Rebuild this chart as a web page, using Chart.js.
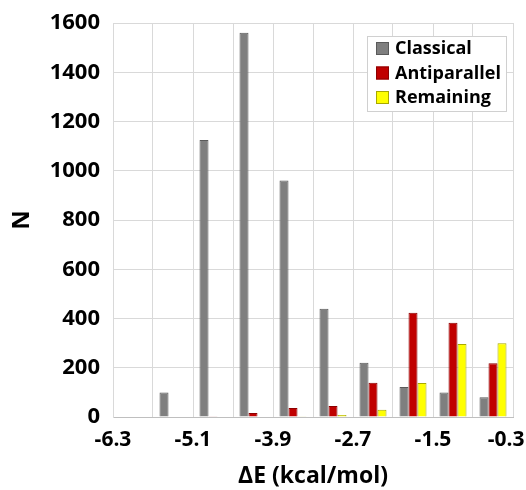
<!DOCTYPE html>
<html>
<head>
<meta charset="utf-8">
<script src="https://cdn.jsdelivr.net/npm/chart.js@4.4.1/dist/chart.umd.min.js"></script>
<style>
  html, body { margin: 0; padding: 0; background: #fff; }
  #wrap { width: 526px; height: 490px; }
</style>
</head>
<body>
<div id="wrap"><canvas id="histChart" width="526" height="490"></canvas></div>
<script>
// bin centres (kcal/mol), each bin 0.6 wide
const binCenters = [-6.0, -5.4, -4.8, -4.2, -3.6, -3.0, -2.4, -1.8, -1.2, -0.6];
const classical = [0, 100, 1125, 1560, 960, 440, 220, 122, 100, 80];
const antiparallel = [0, 0, 3, 16, 37, 45, 139, 423, 383, 218];
const remaining = [0, 0, 0, 0, 3, 8, 29, 138, 296, 300];
const yTicks = [0, 200, 400, 600, 800, 1000, 1200, 1400, 1600];

const FONT = "'Open Sans', 'DejaVu Sans', sans-serif";

function toPoints(values) {
    return binCenters.map((x, i) => ({ x: x, y: values[i] }));
}

const data = {
    datasets: [{
        label: 'Classical',
        data: toPoints(classical),
        backgroundColor: '#7f7f7f',
        borderColor: '#5a5a5a',
        borderWidth: 1
    }, {
        label: 'Antiparallel',
        data: toPoints(antiparallel),
        backgroundColor: '#c00000',
        borderColor: '#8c0000',
        borderWidth: 1
    }, {
        label: 'Remaining',
        data: toPoints(remaining),
        backgroundColor: '#ffff00',
        borderColor: '#a8a800',
        borderWidth: 1
    }]
};

// legend drawn inside the plot area, top right
const boxLegend = {
    id: 'boxLegend',
    afterDraw(chart) {
        const ctx = chart.ctx;
        const area = chart.chartArea;
        const x0 = area.right - 146;
        const y0 = area.top + 13;
        ctx.save();
        ctx.fillStyle = '#fff';
        ctx.fillRect(x0, y0, 140, 76);
        ctx.strokeStyle = '#d0d0d0';
        ctx.lineWidth = 1;
        ctx.strokeRect(x0 + 0.5, y0 + 0.5, 139, 75);
        ctx.font = 'bold 18px ' + FONT;
        ctx.textBaseline = 'middle';
        chart.data.datasets.forEach((ds, i) => {
            const cy = y0 + 12 + i * 24.5;
            ctx.fillStyle = ds.backgroundColor;
            ctx.fillRect(x0 + 9, cy - 6, 13, 13);
            ctx.strokeStyle = ds.borderColor;
            ctx.strokeRect(x0 + 9.5, cy - 5.5, 12, 12);
            ctx.fillStyle = '#000';
            ctx.fillText(ds.label, x0 + 28, cy + 1);
        });
        ctx.restore();
    }
};

const config = {
    type: 'bar',
    data: data,
    options: {
        responsive: false,
        animation: false,
        layout: {
            padding: { left: 0, right: 13, top: 23, bottom: 0 }
        },
        datasets: {
            bar: {
                categoryPercentage: 0.675,
                barPercentage: 1.0
            }
        },
        scales: {
            x: {
                type: 'linear',
                offset: false,
                min: -6.3,
                max: -0.3,
                grid: { color: '#d9d9d9', drawTicks: false, offset: false },
                border: { color: '#bfbfbf' },
                ticks: {
                    stepSize: 0.6,
                    autoSkip: false,
                    maxRotation: 0,
                    padding: 10,
                    color: '#000',
                    font: { family: FONT, size: 21, weight: 'bold' },
                    callback: (value, index, ticks) => {
                        if (index % 2 !== 0) return '';
                        // last label sits inside the canvas, like the original
                        return index === ticks.length - 1 ? value.toFixed(1) + '\u2002\u2009' : value.toFixed(1);
                    }
                },
                title: {
                    display: true,
                    text: 'ΔE (kcal/mol)',
                    color: '#000',
                    font: { family: FONT, size: 23, weight: 'bold' },
                    padding: { top: 0, bottom: 0 }
                },
                afterFit: (scale) => {
                    scale.height = 73;
                    scale.paddingRight = 0;
                }
            },
            y: {
                min: 0,
                max: 1600,
                grid: { color: '#d9d9d9', drawTicks: false },
                border: { color: '#d9d9d9' },
                afterBuildTicks: (scale) => {
                    scale.ticks = yTicks.map(v => ({ value: v }));
                },
                ticks: {
                    padding: 13,
                    color: '#000',
                    font: { family: FONT, size: 22, weight: 'bold' },
                    callback: (value) => String(value)
                },
                title: {
                    display: true,
                    text: 'N',
                    color: '#000',
                    font: { family: FONT, size: 24, weight: 'bold' },
                    padding: { top: 8, bottom: 0 }
                },
                afterFit: (scale) => {
                    scale.width = 113;
                    scale.paddingTop = 0;
                    scale.paddingBottom = 0;
                }
            }
        },
        plugins: {
            legend: { display: false },
            tooltip: { enabled: false }
        }
    },
    plugins: [boxLegend]
};

const ctx = document.getElementById('histChart').getContext('2d');
new Chart(ctx, config);
</script>
</body>
</html>
